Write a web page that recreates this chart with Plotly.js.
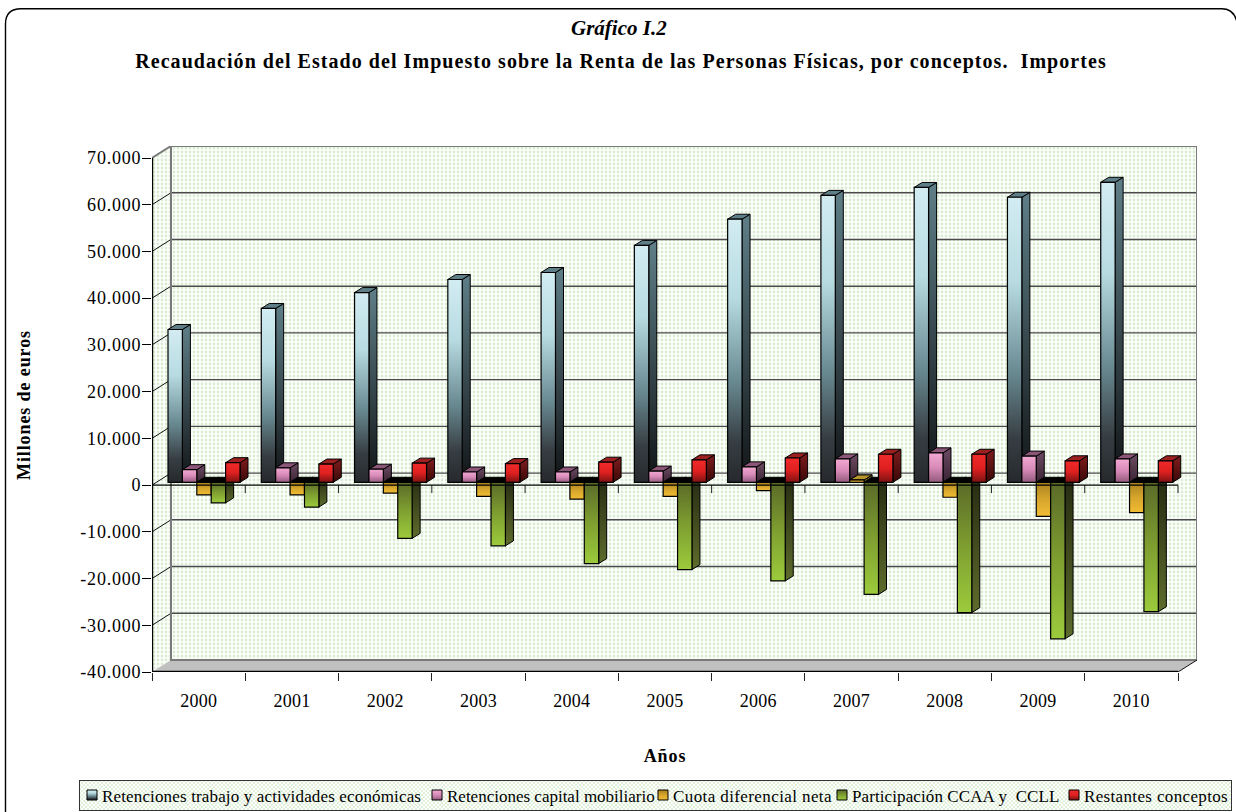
<!DOCTYPE html>
<html><head><meta charset="utf-8">
<script src="https://cdn.plot.ly/plotly-3.0.1.min.js"></script>
<style>html,body{margin:0;padding:0;background:#fff;overflow:hidden}#chart{width:1236px;height:812px}
.gtitle{letter-spacing:1.05px}
.xtitle,.ytitle{letter-spacing:.9px}
.ytick text{letter-spacing:.8px}
.xtick text{letter-spacing:.25px}
</style>
</head><body><div id="chart"></div>
<script>
// ---------- data (millones de euros) ----------
const years = [2000,2001,2002,2003,2004,2005,2006,2007,2008,2009,2010];
const retTrabajo = [32700,37200,40600,43400,44900,50700,56300,61400,63100,61000,64200];
const retCapital = [2700,3100,2800,2200,2200,2400,3300,5000,6300,5600,5000];
const cuotaDif   = [-2700,-2700,-2300,-3000,-3600,-3000,-1800,500,-3200,-7300,-6500];
const partCCAA   = [-4400,-5300,-12000,-13600,-17400,-18700,-21100,-24000,-27900,-33500,-27700];
const restantes  = [4200,3900,4100,4000,4300,4800,5200,6000,6000,4600,4600];
const seriesNames = ['Retenciones trabajo y actividades económicas','Retenciones capital mobiliario','Cuota diferencial neta','Participación CCAA y  CCLL','Restantes conceptos'];
const seriesValues = [retTrabajo,retCapital,cuotaDif,partCCAA,restantes];
const yTicks = [-40000,-30000,-20000,-10000,0,10000,20000,30000,40000,50000,60000,70000];
const yTickText = ['-40.000','-30.000','-20.000','-10.000','0','10.000','20.000','30.000','40.000','50.000','60.000','70.000'];
// ---------- styles ----------
const frontStops = [
 [[0,'#d2ecf2'],[.3,'#b7dbe1'],[.62,'#688890'],[.85,'#363d42'],[1,'#26292c']],
 [[0,'#f2a9d2'],[.5,'#d88ab8'],[1,'#925a7c']],
 [[0,'#a8821f'],[.5,'#d6a52c'],[1,'#f2bd34']],
 [[0,'#5a6a28'],[.5,'#7f9f30'],[1,'#9ccb3c']],
 [[0,'#f02a2a'],[.5,'#e02020'],[1,'#7c1212']]];
const sideStops = [['#5f7f88','#111416'],['#6e4c64','#3a2434'],['#6a5a1c','#8a7428'],['#262b12','#5e6c2c'],['#801c1c','#3a0808']];
const topColors = ['#5f7f88','#8c5678','#b8962e','#000000','#9c2020'];
const midColors = ['#7fa3ab','#d88ab8','#d6a52c','#7d9c30','#e02020'];
const legendSpacing = [0.15,0,0.4,0.1,0.35];

// ---------- geometry ----------
const W=1236,H=812,L=152,T=146,R=1197,B=672;
const catPx=(1178-152)/11;
const ux=1/catPx, uy=110000/514;
const wallDx=19*ux, wallDy=12*uy;
const x0=years[0]-.5, x1=years[10]+.5;
const yMin=-40000, yMax=70000, yTop=yMax+wallDy;
const barW=14.4*ux, barStart=(168-(152+catPx/2))*ux;
const base=600, depthX=8*ux, depthY=5*uy;

const traces=[];
const pat={shape:'.',fgcolor:'#d8edd0',bgcolor:'#ffffff',size:4,solidity:.4};
const deco=(o)=>Object.assign({type:'scatter',mode:'lines',hoverinfo:'skip',showlegend:false},o);
// walls
traces.push(deco({x:[x0,x0+wallDx,x0+wallDx,x0,x0],y:[yMin,yMin+wallDy,yTop,yMax,yMin],fill:'toself',fillpattern:pat,fillcolor:'#fff',line:{width:0},zorder:0}));
traces.push(deco({x:[x0+wallDx,x1+wallDx,x1+wallDx,x0+wallDx,x0+wallDx],y:[yMin+wallDy,yMin+wallDy,yTop,yTop,yMin+wallDy],fill:'toself',fillpattern:pat,fillcolor:'#fff',line:{width:0},zorder:0}));
traces.push(deco({x:[x0,x1,x1+wallDx,x0+wallDx,x0],y:[yMin,yMin,yMin+wallDy,yMin+wallDy,yMin],fill:'toself',fillcolor:'#c0c0c0',line:{width:0},zorder:1}));
// grid on the walls
const gx=[],gy=[],dx=[],dy=[];
yTicks.slice(1,-1).forEach(v=>{gx.push(x0+wallDx,x1+wallDx,null);gy.push(v+wallDy,v+wallDy,null);dx.push(x0,x0+wallDx,null);dy.push(v,v+wallDy,null);});
traces.push(deco({x:gx,y:gy,line:{color:'#4a4a4a',width:1.4},zorder:2}));
traces.push(deco({x:dx,y:dy,line:{color:'#111',width:1},zorder:2}));
traces.push(deco({x:[x0,x0+wallDx,x1+wallDx,x1+wallDx,x0+wallDx,x0+wallDx,x1+wallDx],y:[yMax,yTop,yTop,yMin+wallDy,yMin+wallDy,yTop,yTop],line:{color:'#7a7a7a',width:2},zorder:3}));
traces.push(deco({x:[x1,x1+wallDx],y:[yMin,yMin+wallDy],line:{color:'#111',width:1},zorder:3}));

// bars: side, top, then front for each series
seriesValues.forEach((vals,i)=>{
  const z=10+i*3;
  vals.forEach((v,k)=>{
    const xr=years[k]+barStart+(i+1)*barW, t=Math.max(v,0)+base, b=Math.min(v,0)+base;
    traces.push(deco({x:[xr,xr+depthX,xr+depthX,xr,xr],y:[t,t+depthY,b+depthY,b,t],fill:'toself',
      fillgradient:{type:'vertical',start:t+depthY,stop:b,colorscale:[[0,sideStops[i][0]],[1,sideStops[i][1]]]},
      line:{color:'#000',width:1},zorder:z}));
  });
  const tx=[],ty=[];
  vals.forEach((v,k)=>{
    const xl=years[k]+barStart+i*barW, xr=xl+barW, t=Math.max(v,0)+base;
    tx.push(xl,xr,xr+depthX,xl+depthX,xl,null);ty.push(t,t,t+depthY,t+depthY,t,null);
  });
  traces.push(deco({x:tx,y:ty,fill:'toself',fillcolor:(i==2||i==3)?'#000000':topColors[i],line:{color:'#000',width:1},zorder:z+1}));
  traces.push({type:'bar',name:seriesNames[i],x:years,y:vals,base:base,width:barW,offset:barStart+i*barW,
    marker:{color:midColors[i],line:{color:'#000',width:1.2}},hoverinfo:'skip',zorder:z+2,showlegend:true});
});
// 2007 small positive "cuota" top is not black
(function(){
  const i=2,k=years.indexOf(2007),v=cuotaDif[k],xl=years[k]+barStart+i*barW,xr=xl+barW,t=v+base;
  traces.push(deco({x:[xl,xr,xr+depthX,xl+depthX,xl],y:[t,t,t+depthY,t+depthY,t],fill:'toself',fillcolor:topColors[2],line:{color:'#000',width:1},zorder:10+i*3+1}));
})();
// front axis lines and zero line with its ticks
const zx=[],zy=[];
years.forEach(y=>{zx.push(y+.5,y+.5,null);zy.push(0,-8*uy,null);});
traces.push(deco({x:zx,y:zy,line:{color:'#222',width:1},zorder:40}));
traces.push(deco({x:[x0,x1],y:[0,0],line:{color:'#000',width:1.4},zorder:41}));
traces.push(deco({x:[x0,x0],y:[yMin,yMax],line:{color:'#000',width:2.4},zorder:41}));
traces.push(deco({x:[x0,x1],y:[yMin,yMin],line:{color:'#000',width:2.4},zorder:41}));

const fs='"Liberation Serif","Times New Roman",serif';
const px=v=>(v-L)/(R-L), py=v=>1-(v-T)/(B-T);
const framePath=`M ${px(5.5)} ${py(812)} L ${px(5.5)} ${py(24)} Q ${px(5.5)} ${py(8.7)} ${px(21)} ${py(8.7)} L ${px(1222)} ${py(8.7)} Q ${px(1234)} ${py(8.7)} ${px(1237)} ${py(22)}`;

const layout={
  width:W,height:H,autosize:false,paper_bgcolor:'#fff',plot_bgcolor:'rgba(0,0,0,0)',
  margin:{l:L,r:W-R,t:T,b:H-B,pad:0},
  barmode:'overlay',font:{family:fs,color:'#000',size:18},
  title:{text:'<b>Recaudación del Estado del Impuesto sobre la Renta de las Personas Físicas, por conceptos.  Importes</b>',
    font:{family:fs,size:20,color:'#000'},x:621/W,xanchor:'center',xref:'container',y:1-61/H,yanchor:'middle',yref:'container'},
  xaxis:{type:'linear',range:[x0,x1+wallDx],tickmode:'array',tickvals:years,ticktext:years.map(String),ticks:'',showgrid:false,zeroline:false,showline:false,
    tickfont:{family:fs,size:18,color:'#000'},ticklabelstandoff:16,
    minor:{tickmode:'array',tickvals:years.map(y=>y-.5).concat([x1]),ticks:'outside',ticklen:8,tickwidth:1,tickcolor:'#222',showgrid:false},
    title:{text:'<b>Años</b>',font:{family:fs,size:18,color:'#000'}}},
  yaxis:{range:[yMin,yTop],tickmode:'array',tickvals:yTicks,ticktext:yTickText,ticks:'outside',ticklen:9,tickwidth:1,tickcolor:'#000',showgrid:false,zeroline:false,showline:false,
    tickfont:{family:fs,size:18,color:'#000'},ticklabelstandoff:-3,
    title:{text:'<b>Millones de euros</b>',font:{family:fs,size:18,color:'#000'}}},
  showlegend:true,
  legend:{orientation:'h',xref:'container',yref:'container',x:79/W,xanchor:'left',y:1-780/H,yanchor:'top',
    entrywidth:190,entrywidthmode:'pixels',bordercolor:'#333',borderwidth:1,bgcolor:'#f0f7ec',font:{family:fs,size:17,color:'#000'},traceorder:'normal'},
  annotations:[{text:'<b><i>Gráfico I.2</i></b>',xref:'paper',yref:'paper',x:px(619),y:py(28),xanchor:'center',yanchor:'middle',showarrow:false,font:{family:fs,size:21,color:'#000'}}],
  shapes:[{type:'path',xref:'paper',yref:'paper',path:framePath,line:{color:'#000',width:1.4},fillcolor:'rgba(0,0,0,0)',layer:'above'}]
};

const gd=document.getElementById('chart');
Plotly.newPlot(gd,traces,layout,{displayModeBar:false,responsive:false}).then(()=>{
  const ns='http://www.w3.org/2000/svg';
  const defs=gd.querySelector('.main-svg defs');
  const mk=(id,stops)=>{const g=document.createElementNS(ns,'linearGradient');g.setAttribute('id',id);g.setAttribute('x1','0');g.setAttribute('y1','0');g.setAttribute('x2','0');g.setAttribute('y2','1');
    stops.forEach(s=>{const e=document.createElementNS(ns,'stop');e.setAttribute('offset',s[0]);e.setAttribute('stop-color',s[1]);g.appendChild(e);});defs.appendChild(g);};
  frontStops.forEach((s,i)=>mk('front'+i,s));
  const p=document.createElementNS(ns,'pattern');p.setAttribute('id','legpat');p.setAttribute('width','4');p.setAttribute('height','4');p.setAttribute('patternUnits','userSpaceOnUse');
  p.innerHTML='<rect width="4" height="4" fill="#fff"/><circle cx="1" cy="1" r="1" fill="#d6ecce"/><circle cx="3" cy="3" r="1" fill="#d6ecce"/>';defs.appendChild(p);
  gd.querySelectorAll('.trace.bars').forEach(tr=>{
    const t=tr.__data__&&tr.__data__[0]&&tr.__data__[0].trace; if(!t) return;
    const i=seriesNames.indexOf(t.name); if(i<0) return;
    tr.querySelectorAll('.point path').forEach(pa=>{pa.style.fill='url(#front'+i+')';});
  });
  // legend layout
  const textStart=[102,447,673,852,1084], legL=79;
  gd.querySelectorAll('.legend .traces').forEach(it=>{
    const lt=it.querySelector('.legendtext'), txt=lt.textContent;
    const i=seriesNames.findIndex(n=>n.replace(/\s+/g,' ')===txt.replace(/\s+/g,' ')); if(i<0) return;
    lt.style.letterSpacing=legendSpacing[i]+'px';
    it.setAttribute('transform',`translate(${textStart[i]-legL-40},15)`);
    const sym=it.querySelector('.legendsymbols'); sym.setAttribute('transform','translate(10,0)');
    it.querySelectorAll('.legendpoints path').forEach(pa=>{pa.setAttribute('d','M5,5H-5V-5H5Z');pa.style.fill='url(#front'+i+')';pa.style.strokeWidth='1';pa.style.stroke='#000';});
  });
  const bg=gd.querySelector('.legend .bg'); bg.setAttribute('width',1152);bg.setAttribute('height',30);bg.style.fill='url(#legpat)';
  const sb=gd.querySelector('.legend .scrollbox'); if(sb) sb.removeAttribute('clip-path');
  // axis title placement
  const xt=gd.querySelector('.xtitle'); if(xt){xt.parentNode.removeAttribute('transform');xt.setAttribute('x',665);xt.setAttribute('y',762);}
  const yt=gd.querySelector('.ytitle'); if(yt){const yy=405;yt.parentNode.removeAttribute('transform');yt.setAttribute('x',30);yt.setAttribute('y',yy);yt.setAttribute('transform',`rotate(-90,30,${yy})`);}
});
</script></body></html>
